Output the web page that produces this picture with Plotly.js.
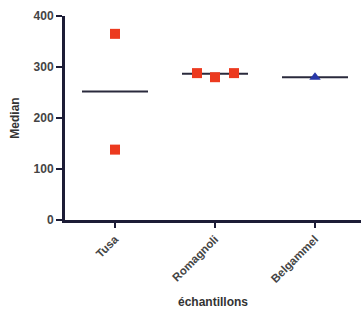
<!DOCTYPE html>
<html><head><meta charset="utf-8">
<script src="https://cdn.plot.ly/plotly-3.0.1.min.js"></script>
<style>html,body{margin:0;padding:0;background:#fff}#chart{width:361px;height:324px}</style>
</head><body><div id="chart"></div>
<script>
const categories = ["Tusa", "Romagnoli", "Belgammel"];
const tusaValues = [365, 138];
const romagnoliValues = [288, 280, 288];
const belgammelValues = [280];
const medians = [252, 287, 280];
const tusaJitter = [0, 0];
const romagnoliJitter = [-0.18, 0, 0.19];
const belgammelJitter = [0];

const axisColor = "#1c1c36";
const traces = [];
categories.forEach((c, i) => {
  traces.push({x: [i - 0.33, i + 0.33], y: [medians[i], medians[i]], mode: "lines",
    line: {color: "#2a2a3c", width: 2}, hoverinfo: "skip", showlegend: false});
});
traces.push({x: tusaValues.map((v, k) => 0 + tusaJitter[k]), y: tusaValues, mode: "markers",
  marker: {symbol: "square", size: 10, color: "#ec3a1f"}, showlegend: false});
traces.push({x: romagnoliValues.map((v, k) => 1 + romagnoliJitter[k]), y: romagnoliValues, mode: "markers",
  marker: {symbol: "square", size: 10, color: "#ec3a1f"}, showlegend: false});
traces.push({x: belgammelValues.map((v, k) => 2 + belgammelJitter[k]), y: belgammelValues, mode: "markers",
  marker: {symbol: "triangle-up", size: 10, color: "#2838a8"}, showlegend: false});

const layout = {
  width: 361, height: 324,
  margin: {l: 65, r: 0, t: 16, b: 104},
  paper_bgcolor: "#fff", plot_bgcolor: "#fff",
  font: {family: "Liberation Sans, Arial, sans-serif", color: "#333"},
  xaxis: {range: [-0.5, 2.46], tickvals: [0, 1, 2], ticktext: categories, tickangle: -45,
    showgrid: false, zeroline: false, showline: true, linecolor: axisColor, linewidth: 3,
    ticks: "outside", ticklen: 5, tickwidth: 2, tickcolor: axisColor,
    tickfont: {size: 11.5, color: "#444", weight: "bold"},
    title: {text: "échantillons", font: {size: 12, color: "#333", weight: "bold"}, standoff: 14}},
  yaxis: {range: [0, 400], tickvals: [0, 100, 200, 300, 400],
    showgrid: false, zeroline: false, showline: true, linecolor: axisColor, linewidth: 3,
    ticks: "outside", ticklen: 6, tickwidth: 2, tickcolor: axisColor,
    tickfont: {size: 12, color: "#444", weight: "bold"},
    title: {text: "Median", font: {size: 12, color: "#333", weight: "bold"}, standoff: 12}}
};
Plotly.newPlot("chart", traces, layout, {displayModeBar: false, staticPlot: true});
</script></body></html>
